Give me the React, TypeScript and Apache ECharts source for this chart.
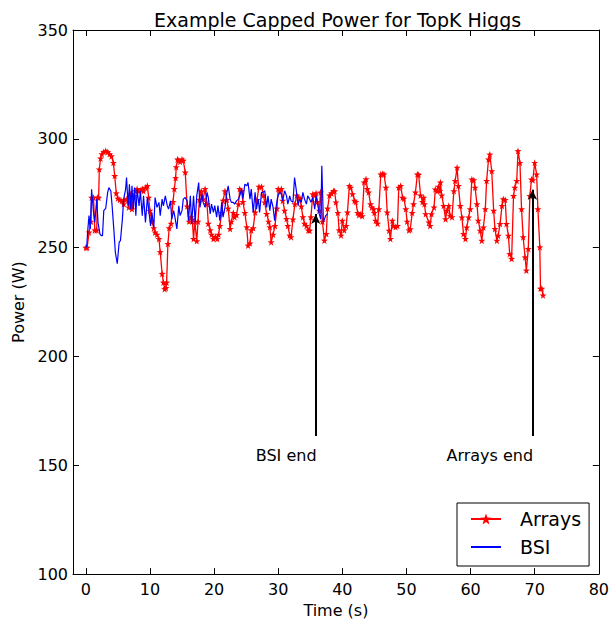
import React, { useEffect, useRef } from "react";
import * as echarts from "echarts";

const chartTitle = "Example Capped Power for TopK Higgs";
const seriesNames = ["Arrays", "BSI"];
const xTicks = [0, 10, 20, 30, 40, 50, 60, 70, 80];

const arraysTime = [
  0.0, 0.2, 0.5, 0.8, 0.9, 1.2, 1.4, 1.7, 1.8, 2.0, 2.1, 2.3, 2.5, 2.8, 3.1, 3.4, 3.7, 4.0, 4.3, 4.5,
  4.75, 5.0, 5.3, 5.6, 5.9, 6.1, 6.4, 6.7, 7.0, 7.2, 7.5, 7.75, 8.0, 8.3, 8.6, 8.8, 9.0, 9.3, 9.6, 9.8,
  10.0, 10.3, 10.6, 10.8, 11.1, 11.4, 11.6, 11.9, 12.1, 12.3, 12.5, 12.6, 12.8, 13.0, 13.3, 13.6, 13.8, 14.0, 14.1, 14.3,
  14.5, 14.7, 15.0, 15.2, 15.5, 15.8, 16.1, 16.4, 16.6, 16.8, 17.0, 17.3, 17.5, 17.7, 18.0, 18.3, 18.6, 18.9, 19.1, 19.4,
  19.6, 19.9, 20.2, 20.5, 20.7, 20.9, 21.2, 21.4, 21.7, 22.0, 22.2, 22.5, 22.7, 23.0, 23.2, 23.5, 23.8, 24.0, 24.3, 24.5,
  24.8, 25.1, 25.3, 25.6, 25.8, 26.1, 26.4, 26.7, 27.0, 27.4, 27.7, 27.9, 28.2, 28.5, 28.7, 28.9, 29.2, 29.5, 29.8, 30.0,
  30.3, 30.5, 30.7, 31.0, 31.3, 31.5, 31.8, 32.0, 32.3, 32.6, 32.9, 33.2, 33.4, 33.6, 33.85, 34.1, 34.4, 34.7, 34.9, 35.1,
  35.4, 35.7, 35.9, 36.1, 36.4, 36.6, 36.9, 37.2, 37.5, 37.7, 38.0, 38.3, 38.6, 38.8, 39.0, 39.3, 39.5, 39.8, 40.0, 40.3,
  40.6, 40.8, 41.1, 41.3, 41.6, 41.9, 42.1, 42.4, 42.6, 42.9, 43.1, 43.4, 43.7, 43.9, 44.1, 44.4, 44.6, 44.9, 45.0, 45.2,
  45.5, 45.7, 46.0, 46.3, 46.5, 46.8, 47.0, 47.3, 47.5, 47.8, 48.0, 48.3, 48.6, 48.8, 49.1, 49.4, 49.6, 49.9, 50.1, 50.4,
  50.6, 50.9, 51.1, 51.4, 51.7, 51.9, 52.2, 52.5, 52.7, 52.8, 53.0, 53.5, 53.7, 53.9, 54.3, 54.5, 54.8, 55.0, 55.2, 55.3,
  55.5, 55.8, 56.1, 56.3, 56.6, 56.8, 57.1, 57.4, 57.6, 57.9, 58.1, 58.4, 58.65, 58.9, 59.2, 59.4, 59.7, 59.95, 60.2, 60.5,
  60.7, 61.0, 61.2, 61.5, 61.75, 62.0, 62.3, 62.5, 62.8, 63.0, 63.3, 63.6, 63.8, 64.1, 64.3, 64.6, 64.9, 65.1, 65.4, 65.6,
  65.9, 66.1, 66.4, 66.7, 66.9, 67.2, 67.4, 67.7, 67.95, 68.2, 68.5, 68.7, 69.0, 69.25, 69.5, 69.7, 70.0, 70.3, 70.5, 70.8,
  70.9, 71.1, 71.3,
];
const arraysPower = [
  250, 250, 257, 262, 273, 273, 258, 258, 273, 273, 286, 291, 293, 294, 294.5, 294, 293, 292, 289, 283,
  275, 272.6, 272, 271.5, 270, 272, 272.3, 268.5, 274.6, 267.7, 273.8, 276, 277, 276, 276.5, 277, 276, 277.6, 278.4, 273,
  267, 262, 259, 257, 256, 254, 248, 238, 234, 231, 231.5, 234, 251.7, 259, 261, 271, 277, 282, 287, 290.6,
  290, 289.5, 290.6, 290, 284.6, 269, 262, 264, 263, 254, 262, 253, 262, 272, 276, 272.3, 277, 270, 261, 258,
  256, 254, 255, 254, 256, 260, 266, 271.6, 276, 272, 268, 258.6, 262, 266, 264, 265, 270, 277, 276, 271,
  266, 259.4, 251, 252, 258, 259, 266.2, 272, 278, 278, 274, 270.8, 265.5, 262, 259.4, 252.5, 256, 260, 268, 277,
  276, 277, 271.6, 267, 263.2, 260, 255.6, 254.8, 263, 270, 274, 273, 272.5, 269, 264, 261, 260, 258, 257.8, 264,
  274.6, 274, 275, 271, 267, 275.4, 262, 253.3, 256.3, 268, 274, 275, 276, 276, 270.8, 266, 258, 255.6, 262.4, 258,
  260, 266.2, 278.4, 277.6, 274.6, 271.6, 271, 266, 265, 265.5, 264.5, 280, 281.5, 277, 275.4, 270, 268.5, 267.7, 266, 262.4,
  261, 267.7, 283.7, 284, 283.7, 277.6, 266.2, 257.8, 254, 262.4, 260, 259.5, 260, 277.6, 278.4, 273, 272.5, 267.7, 262, 258,
  258.5, 266, 270, 275.4, 283.7, 283.5, 274, 271, 273, 270, 265.4, 261.6, 260, 265.4, 268.5, 276.8, 276, 278, 276, 280,
  274, 269.2, 263.1, 267, 269.2, 264.7, 264, 276, 280.7, 286.8, 278.4, 269.2, 263.9, 256.3, 254, 259.3, 263.9, 267.7, 281.4, 281,
  277.6, 270, 262.4, 257.8, 253.2, 259.3, 267.7, 280.7, 290.6, 292.8, 285.2, 267, 258.6, 253.2, 255.5, 260.9, 269.2, 272.3, 272, 260.9,
  255.5, 247.1, 244.9, 273.8, 277.6, 280.7, 294.4, 289, 267.7, 254.8, 245.6, 239.5, 249.4, 273.8, 281.4, 281, 289, 283.7, 267.7, 250.2,
  231.2, 231.2, 228.1,
];

const bsiTime = [
  0.0, 0.15, 0.3, 0.5, 0.7, 0.9, 1.2, 1.4, 1.7, 1.9, 2.2, 2.4, 2.6, 2.8, 3.1, 3.4, 3.6, 3.9, 4.1, 4.4,
  4.6, 4.9, 5.2, 5.4, 5.7, 5.9, 6.2, 6.35, 6.6, 6.8, 7.0, 7.2, 7.4, 7.6, 7.8, 8.0, 8.3, 8.5, 8.8, 9.0,
  9.3, 9.6, 9.8, 10.1, 10.3, 10.6, 10.8, 11.1, 11.4, 11.6, 11.9, 12.1, 12.4, 12.7, 12.9, 13.2, 13.4, 13.7, 13.9, 14.2,
  14.5, 14.7, 15.0, 15.2, 15.5, 15.8, 16.0, 16.3, 16.5, 16.8, 17.05, 17.3, 17.6, 17.8, 18.1, 18.3, 18.6, 18.9, 19.1, 19.4,
  19.6, 19.9, 20.1, 20.4, 20.6, 20.9, 21.2, 21.4, 21.7, 22.0, 22.2, 22.5, 22.7, 23.0, 23.2, 23.5, 23.8, 24.0, 24.3, 24.5,
  24.8, 25.1, 25.3, 25.6, 25.8, 26.1, 26.4, 26.6, 26.9, 27.1, 27.4, 27.6, 27.9, 28.2, 28.4, 28.7, 28.9, 29.2, 29.45, 29.7,
  29.9, 30.2, 30.5, 30.7, 31.0, 31.3, 31.5, 31.8, 32.0, 32.3, 32.55, 32.8, 33.1, 33.3, 33.6, 33.85, 34.1, 34.4, 34.6, 34.9,
  35.1, 35.4, 35.7, 35.9, 36.2, 36.4, 36.65, 36.8, 37.05, 37.4, 37.7,
];
const bsiPower = [
  250, 251, 258, 264.7, 258.6, 276.8, 266.2, 261.6, 272.3, 261.6, 256.3, 255.5, 255.5, 267, 268, 275.3, 277.6, 276, 269.2, 257,
  247.9, 242.6, 252.5, 253.2, 263.1, 272.3, 276.8, 282.2, 269.2, 279.1, 267.7, 278.4, 267.7, 277.6, 264.7, 276.8, 269.2, 276, 264.7, 273.8,
  261.6, 273, 267.7, 260, 266.2, 259.3, 273, 268.5, 270.8, 264.7, 272.3, 269.2, 273.8, 269.2, 267.7, 271.5, 263.1, 267, 263.9, 258.6,
  269.2, 264.7, 267, 272.3, 273, 271.5, 262.4, 273.8, 260.9, 273.8, 261.6, 273.8, 279.9, 268.5, 274.6, 270.8, 268.5, 275.4, 273, 265.5,
  270, 266.2, 269.3, 264, 269.3, 262.4, 270.8, 264, 268.5, 275.4, 278.4, 272.3, 270.8, 270.8, 270, 271.5, 272.3, 273.8, 276.9, 272.3,
  279.2, 278.4, 279.9, 272.3, 276.9, 266.2, 275.4, 267.7, 272.3, 266.2, 275.4, 275.4, 276.1, 268.5, 273.8, 267, 272.3, 268.5, 262.4, 269.3,
  273, 275.4, 274.6, 271.5, 276.1, 273.8, 270, 273.8, 271.5, 270.8, 282.2, 276.9, 269.3, 272.3, 270.8, 275.4, 272.3, 270, 273.8, 272.3,
  270.8, 273, 267.7, 273.8, 269.3, 265.5, 263, 287.6, 261.7, 264.7, 265.5,
];

const annotationNames = ["BSI end", "Arrays end"];
const annotationX = [35.85, 69.65];
const annotationTipY = [265.5, 276.6];
const annotationBaseY = 163.5;
const annotationTextX = [31.24, 63.0];
const annotationTextY = 154.4;

const STAR =
  "path://M0,-10 L2.35,-3.24 L9.51,-3.09 L3.8,1.24 L5.88,8.09 L0,4 L-5.88,8.09 L-3.8,1.24 L-9.51,-3.09 L-2.35,-3.24 Z";
const FONT = "DejaVu Sans";

export default function App() {
  const ref = useRef<HTMLDivElement>(null);
  useEffect(() => {
    if (!ref.current) return;
    const chart = echarts.init(ref.current, null, { renderer: "svg" });
    const arraysData = arraysTime.map((t, i) => [t, arraysPower[i]]);
    const bsiData = bsiTime.map((t, i) => [t, bsiPower[i]]);
    const axisCommon = {
      axisLine: { show: true, onZero: false, lineStyle: { color: "#000", width: 1 } },
      splitLine: { show: false },
    };
    chart.setOption({
      animation: false,
      backgroundColor: "#fff",
      title: {
        text: chartTitle,
        left: 149,
        top: 5,
        textStyle: { fontFamily: FONT, fontSize: 19, fontWeight: "normal", color: "#000" },
      },
      legend: {
        data: [
          { name: seriesNames[0] },
          { name: seriesNames[1], itemStyle: { opacity: 0 } },
        ],
        orient: "vertical",
        left: 457,
        top: 503,
        padding: [6, 8, 9, 13],
        itemWidth: 30,
        itemHeight: 14,
        itemGap: 8,
        borderColor: "#000",
        borderWidth: 1,
        borderRadius: 0,
        backgroundColor: "#fff",
        textStyle: { fontFamily: FONT, fontSize: 19, color: "#000", lineHeight: 20, padding: [0, 0, 0, 14] },
      },
      grid: { left: 73, right: 11, top: 30, bottom: 46 },
      xAxis: [
        {
          ...axisCommon,
          type: "value",
          min: -2,
          max: 80,
          position: "bottom",
          name: "Time (s)",
          nameLocation: "middle",
          nameGap: 24,
          nameTextStyle: { fontFamily: FONT, fontSize: 16, color: "#000" },
          axisTick: { show: true, inside: true, length: 6, customValues: xTicks, lineStyle: { color: "#000" } },
          axisLabel: { show: true, customValues: xTicks, margin: 7, fontFamily: FONT, fontSize: 16, color: "#000" },
        },
        {
          ...axisCommon,
          type: "value",
          min: -2,
          max: 80,
          position: "top",
          axisTick: { show: true, inside: true, length: 6, customValues: xTicks, lineStyle: { color: "#000" } },
          axisLabel: { show: false },
        },
      ],
      yAxis: [
        {
          ...axisCommon,
          type: "value",
          min: 100,
          max: 350,
          interval: 50,
          position: "left",
          name: "Power (W)",
          nameLocation: "middle",
          nameGap: 37,
          nameTextStyle: { fontFamily: FONT, fontSize: 16, color: "#000" },
          axisTick: { show: true, inside: true, length: 6, lineStyle: { color: "#000" } },
          axisLabel: { show: true, margin: 5, fontFamily: FONT, fontSize: 16, color: "#000" },
        },
        {
          ...axisCommon,
          type: "value",
          min: 100,
          max: 350,
          interval: 50,
          position: "right",
          axisTick: { show: true, inside: true, length: 6, lineStyle: { color: "#000" } },
          axisLabel: { show: false },
        },
      ],
      series: [
        {
          name: "Arrays",
          type: "line",
          data: arraysData,
          xAxisIndex: 0,
          yAxisIndex: 0,
          symbol: STAR,
          symbolSize: 7,
          showAllSymbol: true,
          itemStyle: { color: "#ff0000" },
          lineStyle: { color: "#ff0000", width: 1.3 },
          z: 2,
        },
        {
          name: "BSI",
          type: "line",
          data: bsiData,
          xAxisIndex: 0,
          yAxisIndex: 0,
          symbol: "none",
          itemStyle: { color: "#0000ff" },
          lineStyle: { color: "#0000ff", width: 1.2 },
          z: 3,
        },
        {
          name: "annotations",
          type: "line",
          data: [],
          xAxisIndex: 0,
          yAxisIndex: 0,
          z: 5,
          markLine: {
            silent: true,
            symbol: ["none", "arrow"],
            symbolSize: [7, 10],
            lineStyle: { color: "#000", width: 2, type: "solid" },
            label: { show: false },
            data: annotationX.map((x, i) => [
              { coord: [x, annotationBaseY] },
              { coord: [x, annotationTipY[i]] },
            ]),
          },
          markPoint: {
            silent: true,
            symbol: "circle",
            symbolSize: 0,
            label: {
              show: true,
              position: "inside",
              formatter: "{b}",
              fontFamily: FONT,
              fontSize: 16,
              color: "#000",
            },
            data: annotationNames.map((n, i) => ({ name: n, coord: [annotationTextX[i], annotationTextY] })),
          },
        },
      ],
    });
    return () => chart.dispose();
  }, []);
  return (
    <div
      ref={ref}
      style={{ position: "fixed", left: 0, top: 0, width: 612, height: 623, background: "#fff" }}
    />
  );
}
